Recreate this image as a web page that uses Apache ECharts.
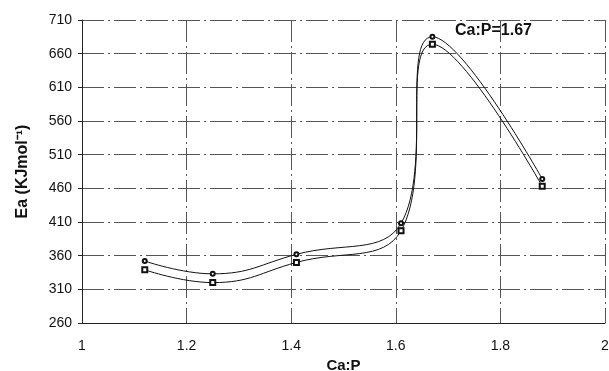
<!DOCTYPE html>
<html>
<head>
<meta charset="utf-8">
<script src="https://cdn.jsdelivr.net/npm/echarts@6/dist/echarts.min.js"></script>
<style>
  html, body { margin: 0; padding: 0; background: #fff; }
  #chart { width: 609px; height: 371px; }
</style>
</head>
<body>
<div id="chart"></div>
<script>
// Ca:P ratios and activation energies
const caP = [1.12, 1.25, 1.41, 1.61, 1.67, 1.88]
const eaCircle = [352, 333, 362, 408, 685, 474]
const eaSquare = [339, 320, 350, 397, 674, 463]
const yTicks = [260, 710, 50] // min, max, step

const pairs = (xs, ys) => xs.map((x, i) => [x, ys[i]])

var myChart = echarts.init(document.getElementById('chart'))
const font = 'Liberation Sans, Arial, sans-serif'
const gridLine = { show: true, lineStyle: { color: '#555', width: 1, type: [22, 4, 2, 4] } }

myChart.setOption({
  animation: false,
  textStyle: { fontFamily: font },
  grid: { left: 82, right: 4, top: 20, bottom: 48, outerBoundsMode: 'none' },
  xAxis: {
    type: 'value',
    min: 1,
    max: 2,
    interval: 0.2,
    name: 'Ca:P',
    nameLocation: 'middle',
    nameGap: 34,
    nameTextStyle: { fontWeight: 'bold', fontSize: 15, color: '#111' },
    axisLine: { show: true, lineStyle: { color: '#222' } },
    axisTick: { show: false },
    axisLabel: { color: '#111', fontSize: 14, margin: 16 },
    splitLine: gridLine
  },
  yAxis: {
    type: 'value',
    min: yTicks[0],
    max: yTicks[1],
    interval: yTicks[2],
    name: 'Ea (KJmol⁻¹)',
    nameLocation: 'middle',
    nameGap: 51,
    nameTextStyle: { fontWeight: 'bold', fontSize: 16, color: '#111' },
    axisLine: { show: true, lineStyle: { color: '#222' } },
    axisTick: { show: true, length: 4, lineStyle: { color: '#222' } },
    axisLabel: { color: '#111', fontSize: 14, margin: 10 },
    splitLine: gridLine
  },
  series: [
    {
      type: 'line',
      data: pairs(caP, eaCircle),
      smooth: 0.45,
      symbol: 'emptyCircle',
      symbolSize: 4,
      lineStyle: { color: '#111', width: 1 },
      itemStyle: { color: '#111', borderWidth: 1 }
    },
    {
      type: 'line',
      data: pairs(caP, eaSquare),
      smooth: 0.45,
      symbol: 'emptyRect',
      symbolSize: 5,
      lineStyle: { color: '#111', width: 1 },
      itemStyle: { color: '#111', borderWidth: 1 }
    }
  ],
  graphic: [
    {
      type: 'text',
      left: 455,
      top: 23,
      style: { text: 'Ca:P=1.67', font: 'bold 16px ' + font, fill: '#111' }
    }
  ]
})
</script>
</body>
</html>
